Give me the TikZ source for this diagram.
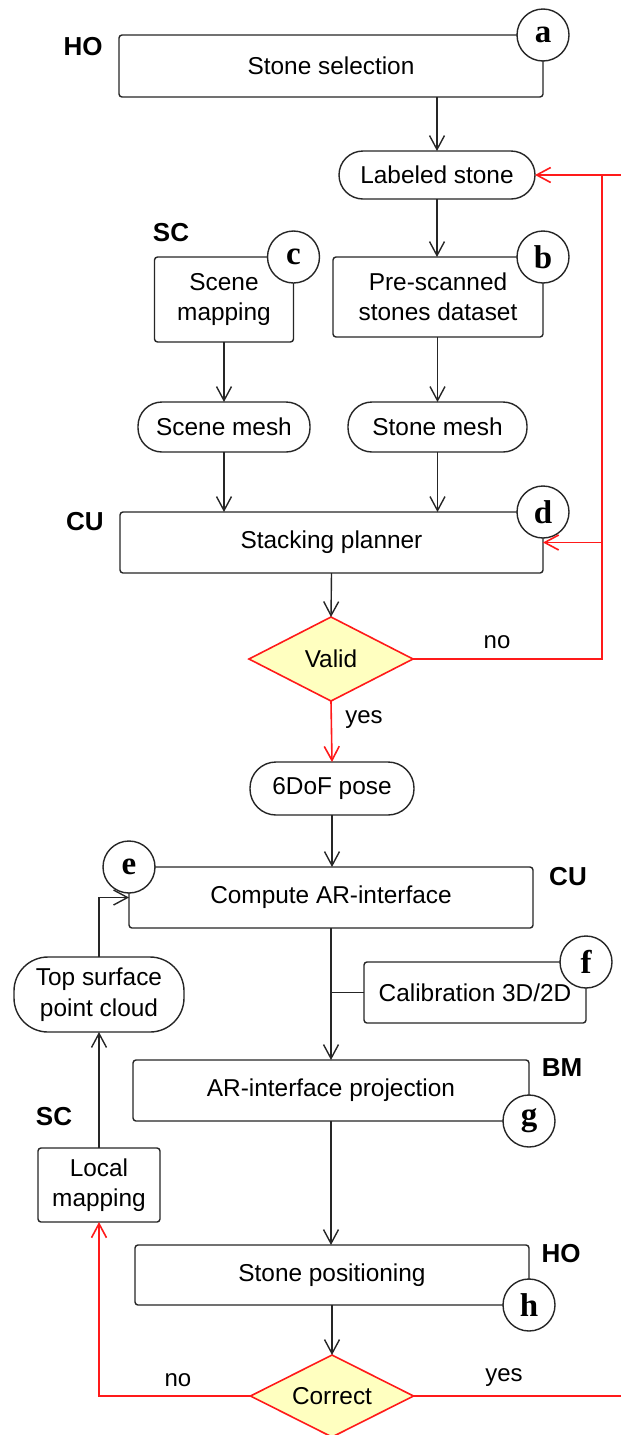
\documentclass[tikz,border=0pt]{standalone}
\usepackage{fontspec}
\setmainfont{Liberation Sans}
\newfontfamily\serifb{Liberation Serif}[BoldFont={Liberation Serif Bold}]
\usetikzlibrary{arrows.meta,shapes.geometric}
\definecolor{dyellow}{HTML}{FFFFC0}
\definecolor{lred}{HTML}{FF1A1A}
\begin{document}
\begin{tikzpicture}[x=0.5pt,y=-0.5pt,
  every node/.style={font=\fontsize{12.2}{15.2}\selectfont, inner sep=0pt, outer sep=0pt},
  base/.style={line width=0.7pt, draw=black!85},
  box/.style={base, rectangle, rounded corners=1.5pt, fill=white, align=center},
  pill/.style={base, rectangle, rounded corners=12pt, fill=white, align=center},
  decide/.style={diamond, draw=lred, line width=0.8pt, fill=dyellow, aspect=2},
  tag/.style={base, circle, fill=white, minimum size=26pt, font=\serifb\bfseries\fontsize{16.5}{18}\selectfont},
  role/.style={font=\bfseries\fontsize{13}{15}\selectfont},
  lab/.style={font=\fontsize{12}{14}\selectfont},
  arr/.style={line width=0.7pt, draw=black!85, -{Straight Barb[length=7pt,width=7.5pt]}},
  line/.style={line width=0.7pt, draw=black!85},
  redarr/.style={line width=0.8pt, draw=lred, -{Straight Barb[length=7pt,width=7.5pt]}},
  redline/.style={line width=0.8pt, draw=lred}]
\useasboundingbox (0,0) rectangle (621,1435);

% boxes
\node[box, minimum width=212pt, minimum height=31pt] (a) at (331,66) {Stone selection};
\node[pill, minimum width=98pt, minimum height=24pt] (ls) at (437,175) {Labeled stone};
\node[box, minimum width=69.5pt, minimum height=42.5pt] (c) at (224,299.5) {Scene\\mapping};
\node[box, minimum width=105pt, minimum height=40pt] (b) at (438,297) {Pre-scanned\\stones dataset};
\node[pill, minimum width=86pt, minimum height=25pt] (sm) at (224,427) {Scene mesh};
\node[pill, minimum width=89.5pt, minimum height=25pt] (stm) at (437.5,427) {Stone mesh};
\node[box, minimum width=211.5pt, minimum height=30.5pt] (d) at (331.5,542.5) {Stacking planner};
\node[decide, minimum width=82pt, minimum height=42pt] (valid) at (331,659) {Valid};
\node[pill, minimum width=82pt, minimum height=26.5pt, rounded corners=13pt] (dof) at (332,788.5) {6DoF pose};
\node[box, minimum width=202pt, minimum height=30.5pt] (e) at (331,897.5) {Compute AR-interface};
\node[pill, minimum width=85pt, minimum height=37.5pt, rounded corners=17pt] (ts) at (99,994.5) {Top surface\\point cloud};
\node[box, minimum width=111pt, minimum height=30.5pt] (f) at (475,992.5) {Calibration 3D/2D};
\node[box, minimum width=198pt, minimum height=30.5pt] (g) at (331,1090.5) {AR-interface projection};
\node[box, minimum width=61pt, minimum height=37pt] (lm) at (99,1185) {Local\\mapping};
\node[box, minimum width=197pt, minimum height=30pt] (h) at (332,1275) {Stone positioning};
\node[decide, minimum width=81.5pt, minimum height=41pt] (cor) at (332,1396) {Correct};

% tags
\node[tag] (ta) at (a.north east) {a};
\node[tag] (tb) at (b.north east) {b};
\node[tag] (tc) at (c.north east) {c};
\node[tag] (td) at (d.north east) {d};
\node[tag] (te) at (e.north west) {e};
\node[tag] (tf) at (f.north east) {f};
\node[tag] (tg) at (g.south east) {g};
\node[tag] (th) at (h.south east) {h};

% roles
\node[role] (r1) at (83,47) {HO};
\node[role] (r2) at (171,233) {SC};
\node[role] (r3) at (85,522) {CU};
\node[role] (r4) at (568,877) {CU};
\node[role] (r5) at (562,1068) {BM};
\node[role] (r6) at (54,1117) {SC};
\node[role] (r7) at (561,1254) {HO};

% branch labels
\node[lab] (no1) at (497,642) {no};
\node[lab] (yes1) at (364,720) {yes};
\node[lab] (no2) at (178,1380) {no};
\node[lab] (yes2) at (504,1378) {yes};

% coordinates
\coordinate (rt) at (602,175);
\coordinate (redge) at (621,175);
\coordinate (redge2) at (621,1396);

% black connectors
\draw[arr] (a.south -| ls.north) -- (ls.north);
\draw[arr] (ls.south) -- (ls.south |- b.north);
\draw[arr] (c.south) -- (sm.north);
\draw[arr] (b.south -| stm.north) -- (stm.north);
\draw[arr] (sm.south) -- (sm.south |- d.north);
\draw[arr] (stm.south) -- (stm.south |- d.north);
\draw[arr] (d.south) -- (valid.north);
\draw[arr] (dof.south) -- (dof.south |- e.north);
\draw[arr] (e.south) -- (e.south |- g.north);
\draw[line] (f.west) -- (f.west -| e.south);
\draw[arr] (ts.north) |- (e.west);
\draw[arr] (lm.north) -- (ts.south);
\draw[arr] (g.south) -- (g.south |- h.north);
\draw[arr] (h.south) -- (cor.north);

% red connectors
\draw[redarr] (valid.south) -- (dof.north);
\draw[redline] (valid.east) -| (rt);
\draw[redarr] (redge) -- (ls.east);
\draw[redarr] (d.east -| rt) -- (d.east);
\draw[redarr] (cor.west) -| (lm.south);
\draw[redline] (cor.east) -- (redge2);
\end{tikzpicture}
\end{document}
